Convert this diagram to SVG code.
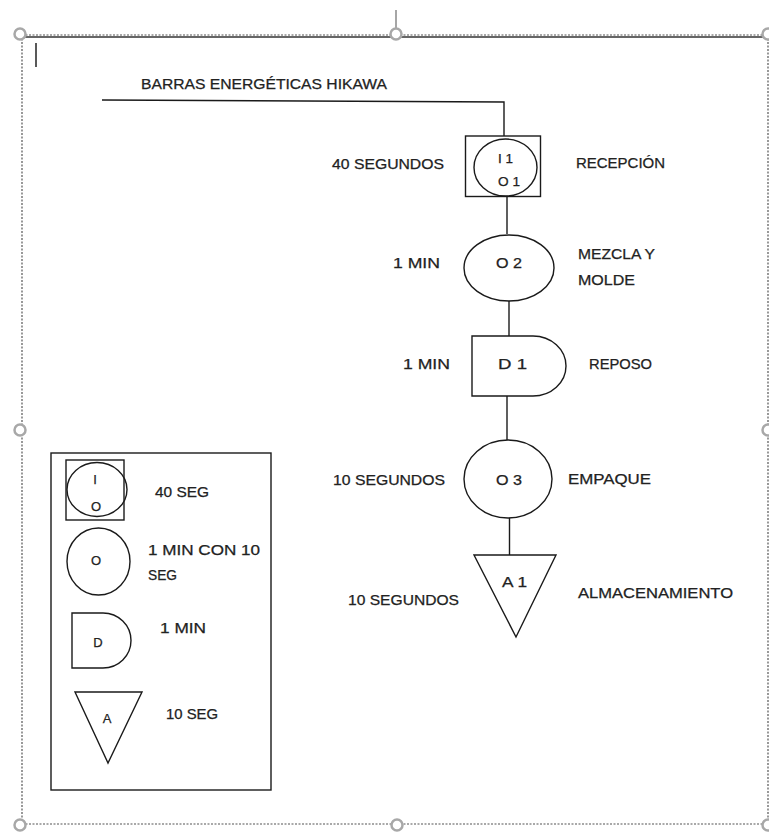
<svg xmlns="http://www.w3.org/2000/svg" width="769" height="832" viewBox="0 0 769 832">
<style>
.s{fill:none;stroke:#1a1a1a;stroke-width:1.4}
.t{font-family:"Liberation Sans",Arial,sans-serif;font-size:14px;fill:#222;stroke:#222;stroke-width:0.25}
.sm{font-size:13px}
.c{text-anchor:middle}
.h{fill:#fff;stroke:#a8a8a8;stroke-width:2.5}
.fr{fill:none;stroke:#555;stroke-width:1.2;stroke-dasharray:2 1.5}
</style>
<rect width="769" height="832" fill="#fff"/>
<g id="frame">
<line x1="396" y1="10" x2="396" y2="29" stroke="#888" stroke-width="1.5"/>
<line x1="22" y1="37" x2="768" y2="37" stroke="#333" stroke-width="1.5"/>
<line class="fr" x1="22" y1="35" x2="768" y2="35"/>
<line class="fr" x1="22" y1="35" x2="22" y2="824" stroke-width="2"/>
<line class="fr" x1="768" y1="35" x2="768" y2="824" stroke="#999"/>
<line class="fr" x1="22" y1="824" x2="768" y2="824" stroke-width="1.8"/>
<circle class="h" cx="20" cy="34" r="5.5"/>
<circle class="h" cx="396" cy="34" r="5.5"/>
<circle class="h" cx="768" cy="34" r="5.5"/>
<circle class="h" cx="20" cy="430" r="5.5"/>
<circle class="h" cx="768" cy="430" r="5.5"/>
<circle class="h" cx="20" cy="825" r="5.5"/>
<circle class="h" cx="397" cy="825" r="5.5"/>
<circle class="h" cx="768" cy="825" r="5.5"/>
<line x1="36" y1="43" x2="36" y2="67" stroke="#222" stroke-width="1.5"/>
</g>
<text class="t" x="141" y="89" textLength="246" lengthAdjust="spacingAndGlyphs">BARRAS ENERGÉTICAS HIKAWA</text>
<g id="connectors" class="s">
<polyline points="102,100 504,102 504,136"/>
<line x1="507" y1="197" x2="507" y2="234"/>
<line x1="509" y1="301" x2="509" y2="336"/>
<line x1="507" y1="396" x2="507" y2="440"/>
<line x1="509.5" y1="518" x2="509.5" y2="555"/>
</g>
<g id="recepcion">
<rect class="s" x="465.5" y="136" width="75" height="60.5"/>
<ellipse class="s" cx="505.5" cy="167.5" rx="31.5" ry="28.5"/>
<text class="t sm c" x="505.5" y="163" textLength="15" lengthAdjust="spacingAndGlyphs">I 1</text>
<text class="t sm c" x="509" y="186" textLength="22" lengthAdjust="spacingAndGlyphs">O 1</text>
<text class="t" x="332" y="169" textLength="112" lengthAdjust="spacingAndGlyphs">40 SEGUNDOS</text>
<text class="t" x="576" y="168" textLength="89" lengthAdjust="spacingAndGlyphs">RECEPCIÓN</text>
</g>
<g id="mezcla">
<ellipse class="s" cx="509" cy="268" rx="45" ry="33"/>
<text class="t c" x="509" y="268" textLength="26" lengthAdjust="spacingAndGlyphs">O 2</text>
<text class="t" x="393" y="268" textLength="47" lengthAdjust="spacingAndGlyphs">1 MIN</text>
<text class="t" x="578" y="259" textLength="77" lengthAdjust="spacingAndGlyphs">MEZCLA Y</text>
<text class="t" x="578" y="285" textLength="57" lengthAdjust="spacingAndGlyphs">MOLDE</text>
</g>
<g id="reposo">
<path class="s" d="M472,336 H533 A33,30 0 0 1 533,396 H472 Z"/>
<text class="t c" x="512.5" y="369" textLength="29" lengthAdjust="spacingAndGlyphs">D 1</text>
<text class="t" x="403" y="369" textLength="47" lengthAdjust="spacingAndGlyphs">1 MIN</text>
<text class="t" x="589" y="369" textLength="63" lengthAdjust="spacingAndGlyphs">REPOSO</text>
</g>
<g id="empaque">
<ellipse class="s" cx="508" cy="479" rx="44" ry="39"/>
<text class="t c" x="509" y="485" textLength="26" lengthAdjust="spacingAndGlyphs">O 3</text>
<text class="t" x="333" y="485" textLength="112" lengthAdjust="spacingAndGlyphs">10 SEGUNDOS</text>
<text class="t" x="568" y="484" textLength="83" lengthAdjust="spacingAndGlyphs">EMPAQUE</text>
</g>
<g id="almacenamiento">
<polygon class="s" points="474,555 556,555 516,637"/>
<text class="t c" x="514.5" y="587" textLength="25" lengthAdjust="spacingAndGlyphs">A 1</text>
<text class="t" x="348" y="605" textLength="111" lengthAdjust="spacingAndGlyphs">10 SEGUNDOS</text>
<text class="t" x="578" y="598" textLength="155" lengthAdjust="spacingAndGlyphs">ALMACENAMIENTO</text>
</g>
<g id="legend">
<rect class="s" x="51" y="453" width="220" height="337"/>
<rect class="s" x="66" y="460" width="58" height="60"/>
<ellipse class="s" cx="97" cy="489.5" rx="30" ry="27"/>
<text class="t sm c" x="95" y="484">I</text>
<text class="t sm c" x="96" y="511">O</text>
<text class="t" x="155" y="497" textLength="54" lengthAdjust="spacingAndGlyphs">40 SEG</text>
<ellipse class="s" cx="98.5" cy="561.5" rx="31.5" ry="33.5"/>
<text class="t sm c" x="96" y="565">O</text>
<text class="t" x="148" y="555" textLength="112" lengthAdjust="spacingAndGlyphs">1 MIN CON 10</text>
<text class="t" x="148" y="580" textLength="29" lengthAdjust="spacingAndGlyphs">SEG</text>
<path class="s" d="M72,613 H103 A28,27.5 0 0 1 103,668 H72 Z"/>
<text class="t sm c" x="98" y="647">D</text>
<text class="t" x="160" y="633" textLength="46" lengthAdjust="spacingAndGlyphs">1 MIN</text>
<polygon class="s" points="75,692 142,692 108,763"/>
<text class="t sm c" x="107" y="723">A</text>
<text class="t" x="166" y="719" textLength="52" lengthAdjust="spacingAndGlyphs">10 SEG</text>
</g>
</svg>
